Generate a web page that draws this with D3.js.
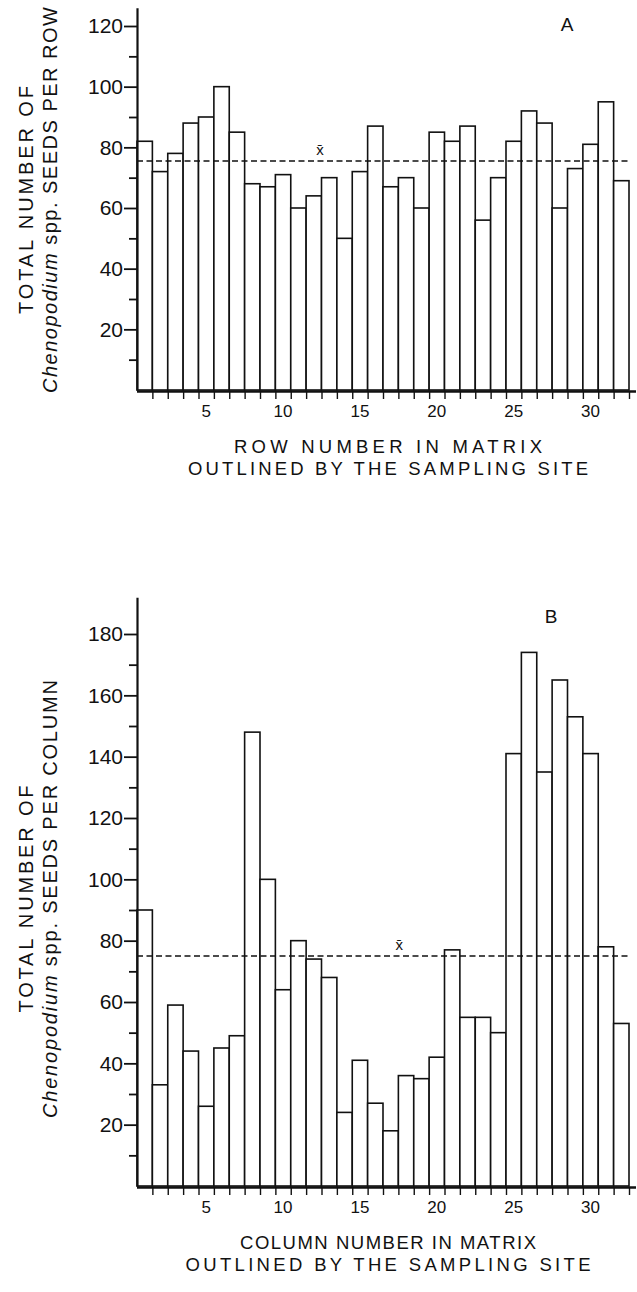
<!DOCTYPE html>
<html>
<head>
<meta charset="utf-8">
<script src="https://cdn.jsdelivr.net/npm/d3@7"></script>
<style>
  html, body { margin: 0; padding: 0; background: #fff; }
  svg { display: block; }
  text { font-family: "Liberation Sans", Arial, Helvetica, sans-serif; fill: #111; }
</style>
</head>
<body>
<div id="chart"></div>
<script>
// Rows 1..32 and columns 1..32 of the sampling matrix
const rowNumbers = d3.range(1, 33);
const rowCounts = [82, 72, 78, 88, 90, 100, 85, 68, 67, 71, 60, 64, 70, 50, 72, 87,
                   67, 70, 60, 85, 82, 87, 56, 70, 82, 92, 88, 60, 73, 81, 95, 69];
const colCounts = [90, 33, 59, 44, 26, 45, 49, 148, 100, 64, 80, 74, 68, 24, 41, 27,
                   18, 36, 35, 42, 77, 55, 55, 50, 141, 174, 135, 165, 153, 141, 78, 53];
const rowMean = 75.5;
const colMean = 75;
const xTickLabels = [5, 10, 15, 20, 25, 30];
const rowYTicks = d3.range(10, 121, 10);
const colYTicks = d3.range(10, 181, 10);

const W = 637, H = 1292;
const FONT = '"Liberation Sans", Arial, Helvetica, sans-serif';

const svg = d3.select('#chart').append('svg')
  .attr('width', W)
  .attr('height', H);

function drawPanel(cfg) {
  const g = svg.append('g');
  const x = d3.scaleBand().domain(rowNumbers).range([137, 629]).padding(0);
  const xEdge = d3.scaleLinear().domain([0, 32]).range([137, 629]);
  const y = d3.scaleLinear().domain([0, cfg.yMax]).range([cfg.y0, cfg.yTop]);

  // bars
  g.append('g').selectAll('rect')
    .data(cfg.values)
    .join('rect')
    .attr('x', (d, i) => x(rowNumbers[i]))
    .attr('y', d => y(d))
    .attr('width', x.bandwidth())
    .attr('height', d => y(0) - y(d))
    .attr('fill', '#fff')
    .attr('stroke', '#111')
    .attr('stroke-width', 1.6);

  // mean line
  g.append('line')
    .attr('x1', x.range()[0]).attr('x2', x.range()[1])
    .attr('y1', y(cfg.mean)).attr('y2', y(cfg.mean))
    .attr('stroke', '#111')
    .attr('stroke-width', 1.6)
    .attr('stroke-dasharray', '6 3.5');

  g.append('text')
    .attr('x', xEdge(cfg.meanLabelAt))
    .attr('y', y(cfg.mean) - 6)
    .attr('text-anchor', 'middle')
    .attr('font-size', 15)
    .text('x\u0304');

  // y axis
  const yAxis = d3.axisLeft(y)
    .tickValues(cfg.yTicks)
    .tickFormat(d => d % 20 === 0 ? d : '')
    .tickSizeOuter(0);
  const ya = g.append('g')
    .attr('transform', 'translate(137,0)')
    .call(yAxis);
  ya.select('.domain').attr('stroke', '#111').attr('stroke-width', 2.2);
  ya.selectAll('.tick line')
    .attr('stroke', '#111')
    .attr('stroke-width', 1.8)
    .attr('x2', d => d % 20 === 0 ? -13 : -8);
  ya.selectAll('.tick text')
    .attr('x', -14)
    .attr('font-size', 21)
    .attr('font-family', FONT)
    .attr('fill', '#111');

  // x axis baseline
  g.append('line')
    .attr('x1', 137).attr('x2', 636)
    .attr('y1', cfg.y0 + 1.5).attr('y2', cfg.y0 + 1.5)
    .attr('stroke', '#111')
    .attr('stroke-width', 2.6);

  // boundary ticks under the bars
  const xAxis = d3.axisBottom(xEdge)
    .tickValues(d3.range(1, 33))
    .tickFormat('')
    .tickSize(8)
    .tickSizeOuter(0);
  const xa = g.append('g')
    .attr('transform', `translate(0,${cfg.y0 + 1})`)
    .call(xAxis);
  xa.select('.domain').remove();
  xa.selectAll('.tick line').attr('stroke', '#111').attr('stroke-width', 1.4);

  // labels at bar centres
  g.append('g').selectAll('text')
    .data(xTickLabels)
    .join('text')
    .attr('x', d => x(d) + x.bandwidth() / 2)
    .attr('y', cfg.y0 + 27)
    .attr('text-anchor', 'middle')
    .attr('font-size', 17)
    .text(d => d);

  // x title
  cfg.xTitle.forEach((t, i) => {
    g.append('text')
      .attr('x', 388)
      .attr('y', cfg.y0 + 63 + i * 22)
      .attr('text-anchor', 'middle')
      .attr('font-size', 18.5)
      .attr('textLength', cfg.xTitleLen[i])
      .attr('lengthAdjust', 'spacing')
      .text(t);
  });

  // y title (two rotated lines)
  const yc = cfg.yTitleCenter;
  g.append('text')
    .attr('transform', `translate(33,${yc}) rotate(-90)`)
    .attr('text-anchor', 'middle')
    .attr('font-size', 20)
    .attr('textLength', cfg.yTitleLen[0])
    .attr('lengthAdjust', 'spacing')
    .text('TOTAL NUMBER OF');
  const t2 = g.append('text')
    .attr('transform', `translate(57,${yc}) rotate(-90)`)
    .attr('text-anchor', 'middle')
    .attr('font-size', 20)
    .attr('textLength', cfg.yTitleLen[1])
    .attr('lengthAdjust', 'spacing');
  t2.append('tspan').attr('font-style', 'italic').text('Chenopodium');
  t2.append('tspan').text(' spp. ' + cfg.yTitleTail);

  // panel letter
  g.append('text')
    .attr('x', cfg.letterX)
    .attr('y', cfg.letterY)
    .attr('text-anchor', 'middle')
    .attr('font-size', 19)
    .text(cfg.letter);
}

drawPanel({
  values: rowCounts, mean: rowMean, meanLabelAt: 11.9,
  yMax: 126, y0: 390, yTop: 7.8, yTicks: rowYTicks,
  xTitle: ['ROW NUMBER IN MATRIX', 'OUTLINED BY THE SAMPLING SITE'],
  xTitleLen: [308, 400],
  yTitleCenter: 200, yTitleLen: [228, 386], yTitleTail: 'SEEDS PER ROW',
  letter: 'A', letterX: 567, letterY: 31
});

drawPanel({
  values: colCounts, mean: colMean, meanLabelAt: 17.05,
  yMax: 192, y0: 1186, yTop: 597.2, yTicks: colYTicks,
  xTitle: ['COLUMN NUMBER IN MATRIX', 'OUTLINED BY THE SAMPLING SITE'],
  xTitleLen: [296, 405],
  yTitleCenter: 899, yTitleLen: [227, 438], yTitleTail: 'SEEDS PER COLUMN',
  letter: 'B', letterX: 551, letterY: 623
});
</script>
</body>
</html>
